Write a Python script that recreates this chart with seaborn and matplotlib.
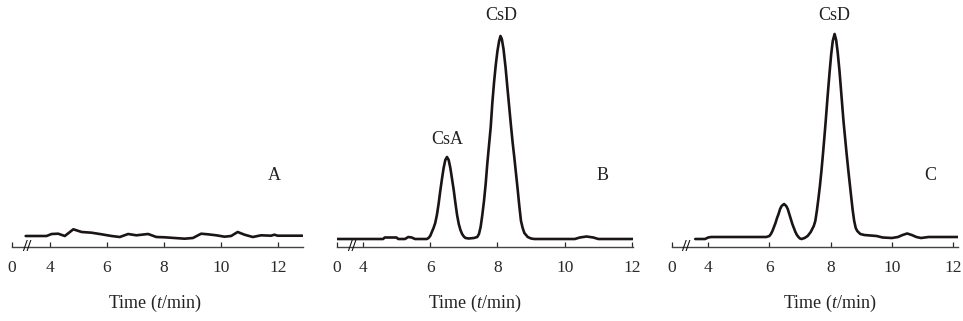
import numpy as np
import pandas as pd
import matplotlib
matplotlib.use("Agg")
import matplotlib.pyplot as plt
import seaborn as sns

# ---- data (time in min, signal in arbitrary units) ----
time_a = [3.15, 3.88, 4.06, 4.29, 4.52, 4.82, 5.11, 5.46, 5.81, 6.16, 6.45, 6.74, 7.03,
          7.44, 7.73, 8.02, 8.37, 8.72, 9.01, 9.30, 9.53, 9.83, 10.12, 10.35, 10.58,
          10.82, 11.11, 11.40, 11.75, 11.87, 11.98, 12.85]
signal_a = [11, 11, 13, 13.3, 11, 17.7, 15, 14.3, 12.7, 11, 10, 13, 11.7,
            13, 10, 9.7, 9, 8.3, 9, 13.3, 12.7, 11.7, 10.3, 11, 15,
            12.3, 10, 11.7, 11.3, 12.3, 11.3, 11.3]

time_b = [3.23, 4.60, 4.65, 5.00, 5.05, 5.25, 5.35, 5.45, 5.55,
          5.90, 5.95, 6.00, 6.05, 6.10, 6.15, 6.20, 6.25, 6.30, 6.35, 6.40, 6.45, 6.50,
          6.55, 6.60, 6.65, 6.70, 6.75, 6.80, 6.85, 6.90, 6.95, 7.00, 7.05, 7.15, 7.30,
          7.40, 7.45, 7.50, 7.55, 7.60, 7.65, 7.70, 7.75, 7.80, 7.85, 7.90, 7.95, 8.00,
          8.05, 8.09, 8.13, 8.18, 8.24, 8.30, 8.35, 8.40, 8.45, 8.50, 8.55, 8.60, 8.65,
          8.70, 8.75, 8.80, 8.90, 9.00, 9.10,
          10.30, 10.45, 10.65, 10.85, 11.00, 12.03]
signal_b = [8, 8, 9.5, 9.5, 8, 8, 10, 9.5, 8,
            8, 9, 11, 15, 19, 24, 32, 43, 56, 68, 79, 87, 90,
            87, 79, 68, 57, 44, 32, 23, 17, 13, 10.5, 9, 8.5, 9,
            10, 13, 20, 32, 46, 63, 84, 102, 120, 145, 165, 182, 196,
            206, 211, 208, 198, 180, 158, 140, 122, 105, 90, 74, 58, 41,
            26, 19, 14, 10, 8.5, 8,
            8, 9.5, 10.5, 9.5, 8, 8]

time_c = [3.58, 3.90, 4.00, 4.10, 5.90,
          6.00, 6.05, 6.10, 6.15, 6.20, 6.25, 6.30, 6.35, 6.40, 6.48, 6.55, 6.60, 6.65,
          6.70, 6.75, 6.80, 6.85, 6.90, 6.95, 7.00, 7.05, 7.10, 7.15, 7.25, 7.35, 7.40,
          7.45, 7.50, 7.55, 7.60, 7.65, 7.70, 7.75, 7.80, 7.84, 7.90, 7.97, 8.02, 8.07,
          8.13, 8.18, 8.23, 8.29, 8.35, 8.42, 8.47, 8.52, 8.58, 8.63, 8.68, 8.72, 8.77,
          8.82, 8.87, 8.97,
          9.10, 9.30, 9.50, 9.70, 10.00, 10.20, 10.35, 10.50, 10.65, 10.80, 10.95, 11.20,
          11.60, 12.16]
signal_c = [8, 8, 9.5, 10, 10,
            11, 13, 16, 20, 24, 29, 33, 38, 41, 43, 41, 38, 33,
            28, 23, 19, 15, 12, 10, 8.5, 8, 8.5, 9, 11, 15, 18,
            21, 26, 36, 48, 61, 76, 93, 111, 126, 150, 176, 193, 206,
            213, 207, 195, 176, 153, 126, 110, 94, 76, 62, 48, 37, 26,
            19, 16, 13,
            12, 11.5, 11, 9.5, 9, 10, 12, 13.5, 12, 10, 9, 10,
            10, 10]

tick_values = [4, 6, 8, 10, 12]
tick_labels = ["0", "4", "6", "8", "10", "12"]

panels = [
    # (time, signal, panel letter, x-range, break position, peak labels)
    (time_a, signal_a, "A", (2.67, 12.87), 3.20, []),
    (time_b, signal_b, "B", (3.23, 12.03), 3.68, [("CsA", 6.50, 107), ("CsD", 8.10, 232)]),
    (time_c, signal_c, "C", (2.82, 12.16), 3.27, [("CsD", 8.12, 232)]),
]
axes_pos = [(12, 291), (337, 296), (672, 286)]  # pixel left / width
letter_pos = [11.87, 11.12, 11.25]
xlabel_centers = [155, 475, 830]

sns.set_theme(style="white")
plt.rcParams["font.family"] = ["Liberation Serif", "DejaVu Serif"]
plt.rcParams["mathtext.fontset"] = "custom"
plt.rcParams["mathtext.it"] = "Liberation Serif:italic"
plt.rcParams["mathtext.rm"] = "Liberation Serif"

W, H = 963, 321
fig = plt.figure(figsize=(W / 100, H / 100), dpi=100)

for i, (t, s, letter, xlim, brk, peaks) in enumerate(panels):
    left, width = axes_pos[i]
    ax = fig.add_axes([left / W, 1 - 247 / H, width / W, 247 / H])
    df = pd.DataFrame({"time": t, "signal": s})
    sns.lineplot(data=df, x="time", y="signal", ax=ax, color="#1a1414",
                 linewidth=1.9, estimator=None, sort=False)
    ax.set_xlim(*xlim)
    ax.set_ylim(0, 247)
    ax.set_xticks([xlim[0]] + tick_values)
    ax.set_xticklabels(tick_labels)
    ax.tick_params(axis="x", direction="in", length=3.5, width=0.9, pad=9,
                   labelsize=12.5, colors="#2a2a2a", bottom=True)
    ax.set_yticks([])
    ax.set_xlabel("")
    ax.set_ylabel("")
    for side in ["top", "right", "left"]:
        ax.spines[side].set_visible(False)
    ax.spines["bottom"].set_color("#444444")
    ax.spines["bottom"].set_linewidth(1.0)
    ax.patch.set_alpha(0)

    # axis break mark
    ax.text(brk, 0, "//", ha="center", va="center", fontsize=12, fontweight="bold",
            color="#111111", clip_on=False)

    ax.text(letter_pos[i], 72, letter, ha="center", va="center", fontsize=13,
            color="#222222")
    for name, px, py in peaks:
        ax.text(px, py, name, ha="center", va="center", fontsize=13, color="#222222")

    fig.text(xlabel_centers[i] / W, 1 - 303 / H, "Time ($t$/min)", ha="center",
             va="center", fontsize=13, color="#222222")

fig.savefig("out.png", dpi=100)
